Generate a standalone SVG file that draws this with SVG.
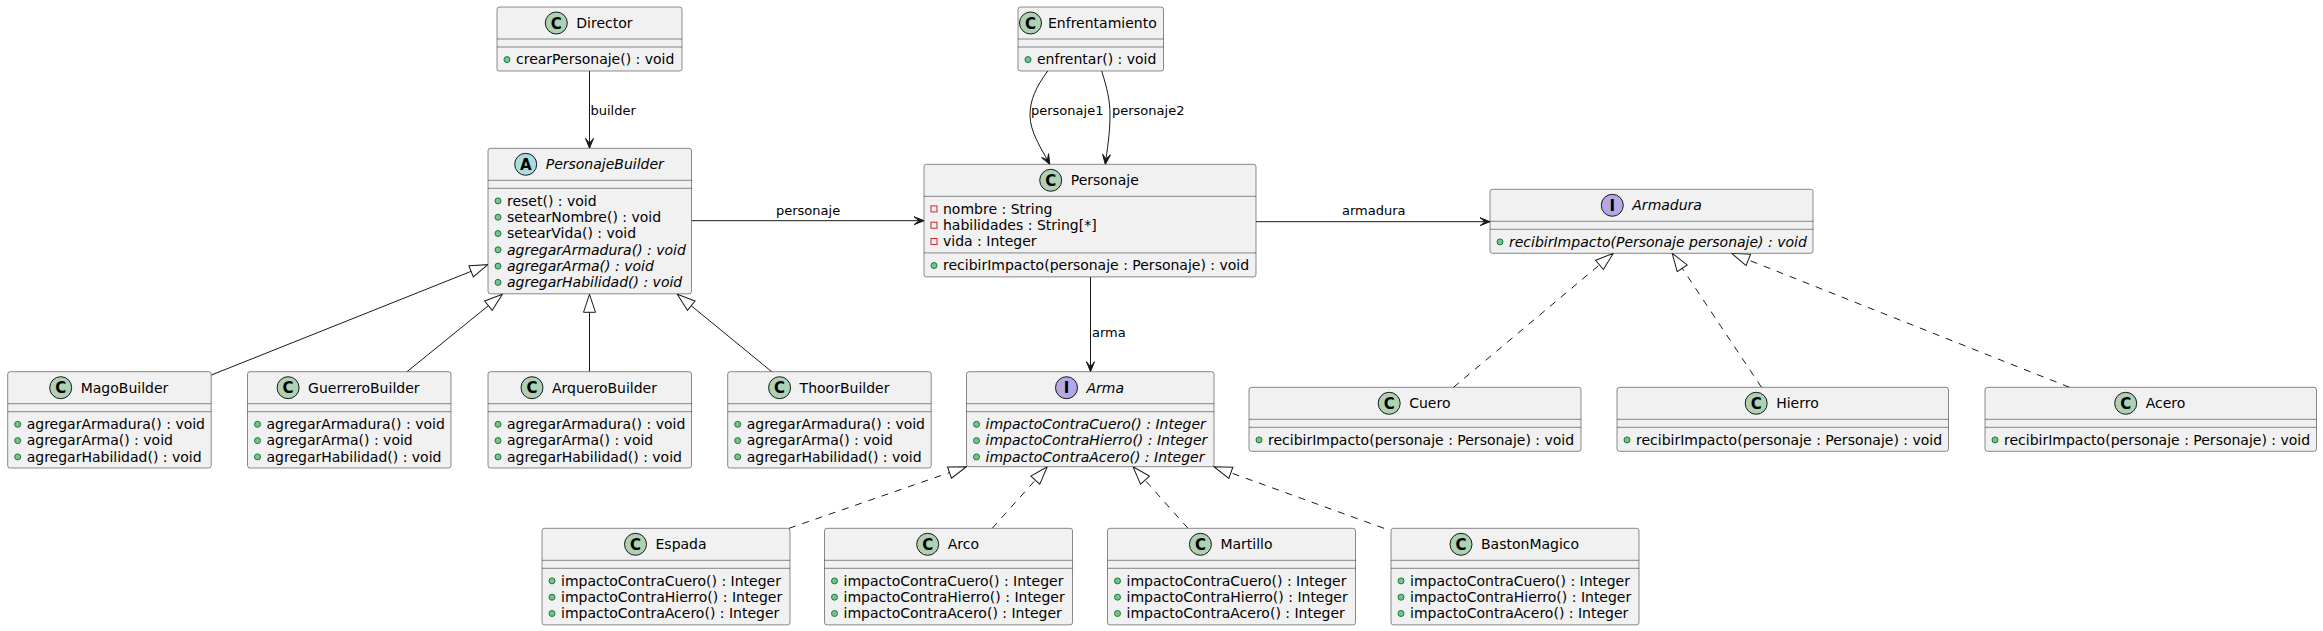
<svg xmlns="http://www.w3.org/2000/svg" width="2323" height="631" viewBox="0 0 2323 631">
<style>
.box{fill:#F1F1F1;stroke:#181818;stroke-width:0.5}
.sep{stroke:#181818;stroke-width:0.5}
.ci{stroke:#181818;stroke-width:1}
.cc{fill:#ADD1B2}.ca{fill:#A9DCDF}.cn{fill:#B4A7E5}
.gl{font-family:"DejaVu Sans",sans-serif;font-weight:bold;font-size:15px;text-anchor:middle;fill:#000000}
.t{font-family:"DejaVu Sans","Liberation Sans",sans-serif;font-size:14px;fill:#000000}
.i{font-style:italic}
.pub{fill:#84BE84;stroke:#038048;stroke-width:1}
.pri{fill:none;stroke:#C82930;stroke-width:1}
.e{fill:none;stroke:#181818;stroke-width:1}
.d{stroke-dasharray:7,7}
.lb{font-family:"DejaVu Sans","Liberation Sans",sans-serif;font-size:13px;fill:#000000}
.ah{fill:#181818;stroke:#181818;stroke-width:1}
.tri{fill:#FFFFFF;stroke:#181818;stroke-width:1}
</style>
<defs>
<marker id="arrow" markerUnits="userSpaceOnUse" markerWidth="12" markerHeight="10" viewBox="0 0 12 10" refX="11" refY="5" orient="auto">
<path class="ah" d="M1,1 L11,5 L1,9 L6,5 Z"/>
</marker>
<marker id="ext" markerUnits="userSpaceOnUse" markerWidth="20" markerHeight="14" viewBox="0 0 20 14" refX="19" refY="7" orient="auto">
<path class="tri" d="M1,1 L19,7 L1,13 Z"/>
</marker>
</defs>
<rect x="0" y="0" width="2323" height="631" fill="#FFFFFF"/>

<g id="connectors">
<path class="e" d="M589.5,71 L589.5,148.3" marker-end="url(#arrow)"/>
<text class="lb" x="590.5" y="114.5">builder</text>
<path class="e" d="M1047.7,71 C1036,87 1030,100 1030,115 C1030,132 1041,148 1049.8,164.3" marker-end="url(#arrow)"/>
<text class="lb" x="1031" y="114.5">personaje1</text>
<path class="e" d="M1101.7,71 C1107,88 1110,100 1110,115 C1110,135 1107,150 1105.3,164.3" marker-end="url(#arrow)"/>
<text class="lb" x="1112" y="114.5">personaje2</text>
<path class="e" d="M691.5,220.7 L924,220.7" marker-end="url(#arrow)"/>
<text class="lb" x="776" y="214.5">personaje</text>
<path class="e" d="M1256,221.7 L1490,221.7" marker-end="url(#arrow)"/>
<text class="lb" x="1342" y="214.5">armadura</text>
<path class="e" d="M1090.5,276.9 L1090.5,371.7" marker-end="url(#arrow)"/>
<text class="lb" x="1092" y="337">arma</text>
<path class="e" d="M211.4,375 L487.8,264.7" marker-end="url(#ext)"/>
<path class="e" d="M407,371.7 L502.4,294.3" marker-end="url(#ext)"/>
<path class="e" d="M589.5,371.7 L589.5,294.3" marker-end="url(#ext)"/>
<path class="e" d="M771.7,371.7 L677.3,294.3" marker-end="url(#ext)"/>
<path class="e d" d="M1453.5,387.3 L1613.3,253.3" marker-end="url(#ext)"/>
<path class="e d" d="M1761.5,387.3 L1672.2,253.3" marker-end="url(#ext)"/>
<path class="e d" d="M2069.5,387.3 L1731.6,253.3" marker-end="url(#ext)"/>
<path class="e d" d="M789,528.3 L966.5,466.7" marker-end="url(#ext)"/>
<path class="e d" d="M992.2,528.3 L1047.3,466.7" marker-end="url(#ext)"/>
<path class="e d" d="M1188,528.3 L1133,466.7" marker-end="url(#ext)"/>
<path class="e d" d="M1384,528.3 L1213.9,466.7" marker-end="url(#ext)"/>
</g>

<g id="Director">
<rect class="box" x="497" y="7" width="185" height="64" rx="2.5"/>
<circle class="ci cc" cx="556.3" cy="23" r="11"/>
<text class="gl" x="556.3" y="28.5">C</text>
<text class="t" x="576.3" y="28">Director</text>
<line class="sep" x1="497" y1="39" x2="682" y2="39"/>
<line class="sep" x1="497" y1="47" x2="682" y2="47"/>
<circle class="pub" cx="507" cy="59.6" r="3"/>
<text class="t" x="516" y="64.3">crearPersonaje() : void</text>
</g>

<g id="Enfrentamiento">
<rect class="box" x="1018" y="7" width="145.5" height="64" rx="2.5"/>
<circle class="ci cc" cx="1030.5" cy="23" r="11"/>
<text class="gl" x="1030.5" y="28.5">C</text>
<text class="t" x="1048" y="28">Enfrentamiento</text>
<line class="sep" x1="1018" y1="39" x2="1163.5" y2="39"/>
<line class="sep" x1="1018" y1="47" x2="1163.5" y2="47"/>
<circle class="pub" cx="1028" cy="59.6" r="3"/>
<text class="t" x="1037" y="64.3">enfrentar() : void</text>
</g>

<g id="PersonajeBuilder">
<rect class="box" x="488" y="148.3" width="203.5" height="145.5" rx="2.5"/>
<circle class="ci ca" cx="525.7" cy="164.3" r="11"/>
<text class="gl" x="525.7" y="169.8">A</text>
<text class="t i" x="545.7" y="169.3">PersonajeBuilder</text>
<line class="sep" x1="488" y1="180.3" x2="691.5" y2="180.3"/>
<line class="sep" x1="488" y1="188.3" x2="691.5" y2="188.3"/>
<circle class="pub" cx="498" cy="200.9" r="3"/>
<text class="t" x="507" y="205.6">reset() : void</text>
<circle class="pub" cx="498" cy="217.2" r="3"/>
<text class="t" x="507" y="221.9">setearNombre() : void</text>
<circle class="pub" cx="498" cy="233.5" r="3"/>
<text class="t" x="507" y="238.2">setearVida() : void</text>
<circle class="pub" cx="498" cy="249.8" r="3"/>
<text class="t i" x="507" y="254.5">agregarArmadura() : void</text>
<circle class="pub" cx="498" cy="266.1" r="3"/>
<text class="t i" x="507" y="270.8">agregarArma() : void</text>
<circle class="pub" cx="498" cy="282.4" r="3"/>
<text class="t i" x="507" y="287.1">agregarHabilidad() : void</text>
</g>

<g id="Personaje">
<rect class="box" x="924" y="164.3" width="332" height="112.6" rx="2.5"/>
<circle class="ci cc" cx="1050.7" cy="180.3" r="11"/>
<text class="gl" x="1050.7" y="185.8">C</text>
<text class="t" x="1070.7" y="185.3">Personaje</text>
<line class="sep" x1="924" y1="196.3" x2="1256" y2="196.3"/>
<rect class="pri" x="931" y="205.9" width="6" height="6"/>
<text class="t" x="943" y="213.6">nombre : String</text>
<rect class="pri" x="931" y="222.2" width="6" height="6"/>
<text class="t" x="943" y="229.9">habilidades : String[*]</text>
<rect class="pri" x="931" y="238.5" width="6" height="6"/>
<text class="t" x="943" y="246.2">vida : Integer</text>
<line class="sep" x1="924" y1="252.9" x2="1256" y2="252.9"/>
<circle class="pub" cx="934" cy="265.5" r="3"/>
<text class="t" x="943" y="270.2">recibirImpacto(personaje : Personaje) : void</text>
</g>

<g id="Armadura">
<rect class="box" x="1490" y="189.3" width="323" height="64" rx="2.5"/>
<circle class="ci cn" cx="1612.3" cy="205.3" r="11"/>
<text class="gl" x="1612.3" y="210.8">I</text>
<text class="t i" x="1632.3" y="210.3">Armadura</text>
<line class="sep" x1="1490" y1="221.3" x2="1813" y2="221.3"/>
<line class="sep" x1="1490" y1="229.3" x2="1813" y2="229.3"/>
<circle class="pub" cx="1500" cy="241.9" r="3"/>
<text class="t i" x="1509" y="246.6">recibirImpacto(Personaje personaje) : void</text>
</g>

<g id="MagoBuilder">
<rect class="box" x="7.7" y="371.7" width="203.5" height="96.3" rx="2.5"/>
<circle class="ci cc" cx="60.7" cy="387.7" r="11"/>
<text class="gl" x="60.7" y="393.2">C</text>
<text class="t" x="80.7" y="392.7">MagoBuilder</text>
<line class="sep" x1="7.7" y1="403.7" x2="211.2" y2="403.7"/>
<line class="sep" x1="7.7" y1="411.7" x2="211.2" y2="411.7"/>
<circle class="pub" cx="17.7" cy="424.3" r="3"/>
<text class="t" x="26.7" y="429">agregarArmadura() : void</text>
<circle class="pub" cx="17.7" cy="440.6" r="3"/>
<text class="t" x="26.7" y="445.3">agregarArma() : void</text>
<circle class="pub" cx="17.7" cy="456.9" r="3"/>
<text class="t" x="26.7" y="461.6">agregarHabilidad() : void</text>
</g>

<g id="GuerreroBuilder">
<rect class="box" x="247.5" y="371.7" width="203.5" height="96.3" rx="2.5"/>
<circle class="ci cc" cx="288.1" cy="387.7" r="11"/>
<text class="gl" x="288.1" y="393.2">C</text>
<text class="t" x="308.1" y="392.7">GuerreroBuilder</text>
<line class="sep" x1="247.5" y1="403.7" x2="451" y2="403.7"/>
<line class="sep" x1="247.5" y1="411.7" x2="451" y2="411.7"/>
<circle class="pub" cx="257.5" cy="424.3" r="3"/>
<text class="t" x="266.5" y="429">agregarArmadura() : void</text>
<circle class="pub" cx="257.5" cy="440.6" r="3"/>
<text class="t" x="266.5" y="445.3">agregarArma() : void</text>
<circle class="pub" cx="257.5" cy="456.9" r="3"/>
<text class="t" x="266.5" y="461.6">agregarHabilidad() : void</text>
</g>

<g id="ArqueroBuilder">
<rect class="box" x="488" y="371.7" width="203.5" height="96.3" rx="2.5"/>
<circle class="ci cc" cx="532" cy="387.7" r="11"/>
<text class="gl" x="532" y="393.2">C</text>
<text class="t" x="552" y="392.7">ArqueroBuilder</text>
<line class="sep" x1="488" y1="403.7" x2="691.5" y2="403.7"/>
<line class="sep" x1="488" y1="411.7" x2="691.5" y2="411.7"/>
<circle class="pub" cx="498" cy="424.3" r="3"/>
<text class="t" x="507" y="429">agregarArmadura() : void</text>
<circle class="pub" cx="498" cy="440.6" r="3"/>
<text class="t" x="507" y="445.3">agregarArma() : void</text>
<circle class="pub" cx="498" cy="456.9" r="3"/>
<text class="t" x="507" y="461.6">agregarHabilidad() : void</text>
</g>

<g id="ThoorBuilder">
<rect class="box" x="727.7" y="371.7" width="203.5" height="96.3" rx="2.5"/>
<circle class="ci cc" cx="779.6" cy="387.7" r="11"/>
<text class="gl" x="779.6" y="393.2">C</text>
<text class="t" x="799.6" y="392.7">ThoorBuilder</text>
<line class="sep" x1="727.7" y1="403.7" x2="931.2" y2="403.7"/>
<line class="sep" x1="727.7" y1="411.7" x2="931.2" y2="411.7"/>
<circle class="pub" cx="737.7" cy="424.3" r="3"/>
<text class="t" x="746.7" y="429">agregarArmadura() : void</text>
<circle class="pub" cx="737.7" cy="440.6" r="3"/>
<text class="t" x="746.7" y="445.3">agregarArma() : void</text>
<circle class="pub" cx="737.7" cy="456.9" r="3"/>
<text class="t" x="746.7" y="461.6">agregarHabilidad() : void</text>
</g>

<g id="Arma">
<rect class="box" x="966.5" y="371.7" width="247.5" height="95" rx="2.5"/>
<circle class="ci cn" cx="1066.5" cy="387.7" r="11"/>
<text class="gl" x="1066.5" y="393.2">I</text>
<text class="t i" x="1086.5" y="392.7">Arma</text>
<line class="sep" x1="966.5" y1="403.7" x2="1214" y2="403.7"/>
<line class="sep" x1="966.5" y1="411.7" x2="1214" y2="411.7"/>
<circle class="pub" cx="976.5" cy="424.3" r="3"/>
<text class="t i" x="985.5" y="429">impactoContraCuero() : Integer</text>
<circle class="pub" cx="976.5" cy="440.6" r="3"/>
<text class="t i" x="985.5" y="445.3">impactoContraHierro() : Integer</text>
<circle class="pub" cx="976.5" cy="456.9" r="3"/>
<text class="t i" x="985.5" y="461.6">impactoContraAcero() : Integer</text>
</g>

<g id="Cuero">
<rect class="box" x="1249" y="387.3" width="332" height="64" rx="2.5"/>
<circle class="ci cc" cx="1389.2" cy="403.3" r="11"/>
<text class="gl" x="1389.2" y="408.8">C</text>
<text class="t" x="1409.2" y="408.3">Cuero</text>
<line class="sep" x1="1249" y1="419.3" x2="1581" y2="419.3"/>
<line class="sep" x1="1249" y1="427.3" x2="1581" y2="427.3"/>
<circle class="pub" cx="1259" cy="439.9" r="3"/>
<text class="t" x="1268" y="444.6">recibirImpacto(personaje : Personaje) : void</text>
</g>

<g id="Hierro">
<rect class="box" x="1617" y="387.3" width="331.5" height="64" rx="2.5"/>
<circle class="ci cc" cx="1756.2" cy="403.3" r="11"/>
<text class="gl" x="1756.2" y="408.8">C</text>
<text class="t" x="1776.2" y="408.3">Hierro</text>
<line class="sep" x1="1617" y1="419.3" x2="1948.5" y2="419.3"/>
<line class="sep" x1="1617" y1="427.3" x2="1948.5" y2="427.3"/>
<circle class="pub" cx="1627" cy="439.9" r="3"/>
<text class="t" x="1636" y="444.6">recibirImpacto(personaje : Personaje) : void</text>
</g>

<g id="Acero">
<rect class="box" x="1985" y="387.3" width="331.5" height="64" rx="2.5"/>
<circle class="ci cc" cx="2125.7" cy="403.3" r="11"/>
<text class="gl" x="2125.7" y="408.8">C</text>
<text class="t" x="2145.7" y="408.3">Acero</text>
<line class="sep" x1="1985" y1="419.3" x2="2316.5" y2="419.3"/>
<line class="sep" x1="1985" y1="427.3" x2="2316.5" y2="427.3"/>
<circle class="pub" cx="1995" cy="439.9" r="3"/>
<text class="t" x="2004" y="444.6">recibirImpacto(personaje : Personaje) : void</text>
</g>

<g id="Espada">
<rect class="box" x="542" y="528.3" width="248" height="96.6" rx="2.5"/>
<circle class="ci cc" cx="635.5" cy="544.3" r="11"/>
<text class="gl" x="635.5" y="549.8">C</text>
<text class="t" x="655.5" y="549.3">Espada</text>
<line class="sep" x1="542" y1="560.3" x2="790" y2="560.3"/>
<line class="sep" x1="542" y1="568.3" x2="790" y2="568.3"/>
<circle class="pub" cx="552" cy="580.9" r="3"/>
<text class="t" x="561" y="585.6">impactoContraCuero() : Integer</text>
<circle class="pub" cx="552" cy="597.2" r="3"/>
<text class="t" x="561" y="601.9">impactoContraHierro() : Integer</text>
<circle class="pub" cx="552" cy="613.5" r="3"/>
<text class="t" x="561" y="618.2">impactoContraAcero() : Integer</text>
</g>

<g id="Arco">
<rect class="box" x="824.5" y="528.3" width="248" height="96.6" rx="2.5"/>
<circle class="ci cc" cx="927.7" cy="544.3" r="11"/>
<text class="gl" x="927.7" y="549.8">C</text>
<text class="t" x="947.7" y="549.3">Arco</text>
<line class="sep" x1="824.5" y1="560.3" x2="1072.5" y2="560.3"/>
<line class="sep" x1="824.5" y1="568.3" x2="1072.5" y2="568.3"/>
<circle class="pub" cx="834.5" cy="580.9" r="3"/>
<text class="t" x="843.5" y="585.6">impactoContraCuero() : Integer</text>
<circle class="pub" cx="834.5" cy="597.2" r="3"/>
<text class="t" x="843.5" y="601.9">impactoContraHierro() : Integer</text>
<circle class="pub" cx="834.5" cy="613.5" r="3"/>
<text class="t" x="843.5" y="618.2">impactoContraAcero() : Integer</text>
</g>

<g id="Martillo">
<rect class="box" x="1107.5" y="528.3" width="248" height="96.6" rx="2.5"/>
<circle class="ci cc" cx="1200.4" cy="544.3" r="11"/>
<text class="gl" x="1200.4" y="549.8">C</text>
<text class="t" x="1220.4" y="549.3">Martillo</text>
<line class="sep" x1="1107.5" y1="560.3" x2="1355.5" y2="560.3"/>
<line class="sep" x1="1107.5" y1="568.3" x2="1355.5" y2="568.3"/>
<circle class="pub" cx="1117.5" cy="580.9" r="3"/>
<text class="t" x="1126.5" y="585.6">impactoContraCuero() : Integer</text>
<circle class="pub" cx="1117.5" cy="597.2" r="3"/>
<text class="t" x="1126.5" y="601.9">impactoContraHierro() : Integer</text>
<circle class="pub" cx="1117.5" cy="613.5" r="3"/>
<text class="t" x="1126.5" y="618.2">impactoContraAcero() : Integer</text>
</g>

<g id="BastonMagico">
<rect class="box" x="1391" y="528.3" width="248" height="96.6" rx="2.5"/>
<circle class="ci cc" cx="1461" cy="544.3" r="11"/>
<text class="gl" x="1461" y="549.8">C</text>
<text class="t" x="1481" y="549.3">BastonMagico</text>
<line class="sep" x1="1391" y1="560.3" x2="1639" y2="560.3"/>
<line class="sep" x1="1391" y1="568.3" x2="1639" y2="568.3"/>
<circle class="pub" cx="1401" cy="580.9" r="3"/>
<text class="t" x="1410" y="585.6">impactoContraCuero() : Integer</text>
<circle class="pub" cx="1401" cy="597.2" r="3"/>
<text class="t" x="1410" y="601.9">impactoContraHierro() : Integer</text>
<circle class="pub" cx="1401" cy="613.5" r="3"/>
<text class="t" x="1410" y="618.2">impactoContraAcero() : Integer</text>
</g>
</svg>
